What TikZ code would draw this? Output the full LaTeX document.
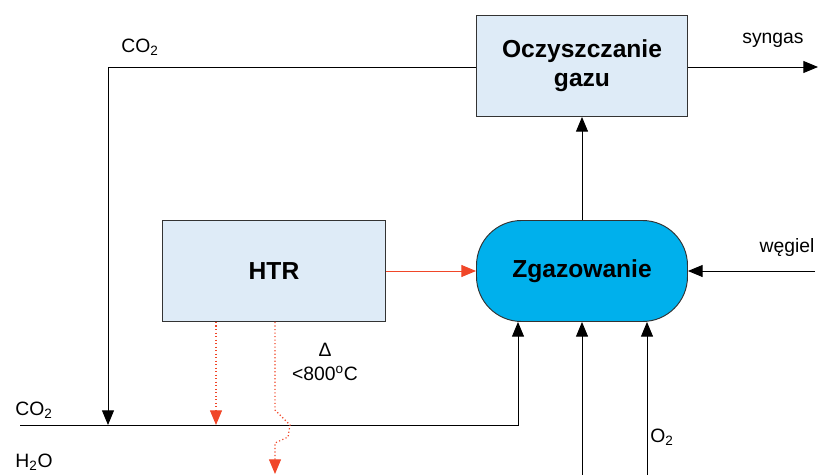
\documentclass[tikz,border=0pt]{standalone}
\usepackage{fontspec}
\setmainfont{Liberation Sans}
\usetikzlibrary{arrows.meta}
\definecolor{boxblue}{RGB}{222,235,247}
\definecolor{gasblue}{RGB}{0,176,236}
\definecolor{heatred}{RGB}{240,70,40}

\begin{document}
\begin{tikzpicture}[x=0.03cm, y=-0.03cm, line width=0.8pt,
  >={Triangle[width=0.36cm, length=0.44cm]},
  unit/.style={draw=black!80, fill=boxblue, minimum width=6.33cm, minimum height=3.03cm,
    align=center, font=\fontsize{21}{25}\selectfont\bfseries},
  lbl/.style={font=\fontsize{16.5}{19}\selectfont, inner sep=0pt},
  heat/.style={heatred, dotted, line width=1pt},
  heattip/.style={-{Triangle[width=0.36cm, length=0.44cm, fill=heatred]}}]
  \useasboundingbox (0,0) rectangle (828,475);

  % Nodes for the units
  \node[unit] (clean) at (582,66) {Oczyszczanie\\gazu};
  \node[unit, minimum width=6.69cm] (htr) at (274,271) {HTR};
  \node[unit, fill=gasblue, rounded corners=1.35cm] (gasif) at (582,271) {Zgazowanie};

  % Free ends of the streams
  \coordinate (co2top) at (108,67);
  \coordinate (co2mix) at (108,425);
  \coordinate (co2in) at (20,425);
  \coordinate (co2up) at (518,425);
  \coordinate (syngas) at (818,67);
  \coordinate (coal) at (815,271);
  \coordinate (h2oin) at (582,475);
  \coordinate (o2in) at (647,475);
  \coordinate (heatA) at (216,425);
  \coordinate (heatB) at (275,474);

  % Labels
  \node[lbl] (lco2top) at (140,47) {CO\textsubscript{2}};
  \node[lbl] (lsyngas) at (773,40) {syngas};
  \node[lbl] (lcoal) at (787,248) {węgiel};
  \node[lbl] (lco2) at (34,410) {CO\textsubscript{2}};
  \node[lbl] (lh2o) at (34,462) {H\textsubscript{2}O};
  \node[lbl] (lo2) at (662,437) {O\textsubscript{2}};
  \node[lbl, align=center] (ltemp) at (325,362) {Δ\\[2pt]<800\textsuperscript{o}C};

  % Gas streams
  \draw[->] (gasif) -- (clean);
  \draw[->] (clean.east |- syngas) -- (syngas);
  \draw[->] (clean.west |- co2top) -- (co2top) -- (co2mix);
  \draw[->] (co2in) -- (co2up) -- (gasif.south -| co2up);
  \draw[->] (coal) -- (gasif.east |- coal);
  \draw[->] (h2oin) -- (gasif.south -| h2oin);
  \draw[->] (o2in) -- (gasif.south -| o2in);

  % Heat from HTR
  \draw[heattip, heatred] (htr) -- (gasif);
  \draw[heat, heattip] (htr.south -| heatA) -- (heatA);
  \draw[heat, heattip] (htr.south -| heatB)
    -- (275,410) -- (290,425) -- (288,437) -- (275,443) -- (heatB);
\end{tikzpicture}
\end{document}
